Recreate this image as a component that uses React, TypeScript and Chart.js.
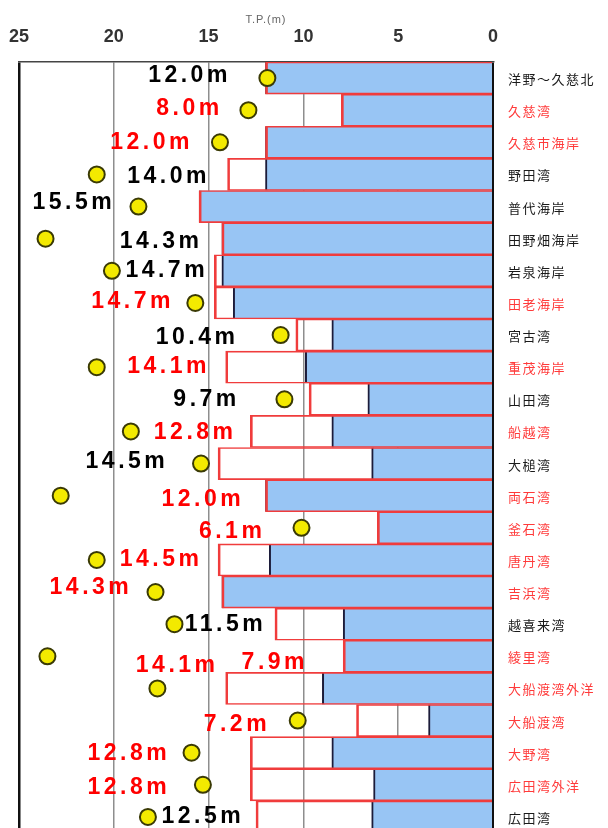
import React, { useEffect, useRef } from 'react';
import { Chart, registerables } from 'chart.js';

Chart.register(...registerables);

// ---- data ----
const categories = [
  '洋野～久慈北', '久慈湾', '久慈市海岸', '野田湾', '普代海岸', '田野畑海岸',
  '岩泉海岸', '田老海岸', '宮古湾', '重茂海岸', '山田湾', '船越湾',
  '大槌湾', '両石湾', '釜石湾', '唐丹湾', '吉浜湾', '越喜来湾',
  '綾里湾', '大船渡湾外洋', '大船渡湾', '大野湾', '広田湾外洋', '広田湾',
];
// true = red text (planned revision), false = black text
const redRows = [
  false, true, true, false, false, false,
  false, true, false, true, false, true,
  false, true, true, true, true, false,
  true, true, true, true, true, false,
];
// planned seawall height (red box), T.P. m
const plannedHeights = [
  12.0, 8.0, 12.0, 14.0, 15.5, 14.3,
  14.7, 14.7, 10.4, 14.1, 9.7, 12.8,
  14.5, 12.0, 6.1, 14.5, 14.3, 11.5,
  7.9, 14.1, 7.2, 12.8, 12.8, 12.5,
];
// existing seawall height (blue bar)
const existingHeights = [
  12.0, 8.0, 12.0, 12.0, 15.5, 14.3,
  14.3, 13.7, 8.5, 9.9, 6.6, 8.5,
  6.4, 12.0, 6.1, 11.8, 14.3, 7.9,
  7.9, 9.0, 3.4, 8.5, 6.3, 6.4,
];
// tsunami height (yellow dot)
const tsunamiHeights = [
  11.9, 12.9, 14.4, 20.9, 18.7, 23.6,
  20.1, 15.7, 11.2, 20.9, 11.0, 19.1,
  15.4, 22.8, 10.1, 20.9, 17.8, 16.8,
  23.5, 17.7, 10.3, 15.9, 15.3, 18.2,
];
const xTicks = [25, 20, 15, 10, 5, 0];
const axisTitle = 'T.P.(m)';

// ---- label layout (where each value label sits: centre on the T.P. scale, and vertical nudge in px) ----
const labelAt = [
  16.1, 16.1, 18.1, 17.2, 22.2, 17.6,
  17.3, 19.1, 15.7, 17.2, 15.2, 15.8,
  19.4, 15.4, 13.85, 17.6, 21.3, 14.2,
  11.6, 16.75, 13.6, 19.3, 19.3, 15.4,
];
const labelDy = [
  -4, -3, -2, 0, -6, 1,
  -2, -3, 1, -2, -2, -1,
  -4, 2, 2, -2, -6, -1,
  4, -25, 2, -1, 1, -2,
];

const labelsPlugin = {
  id: 'customLabels',
  afterDatasetsDraw(chart: any) {
    const { ctx, chartArea } = chart;
    const xs = chart.scales.x;
    const ys = chart.scales.y;
    ctx.save();
    // value labels
    const fs = 23;
    ctx.font = `bold ${fs}px "Liberation Sans", Arial, sans-serif`;
    (ctx as any).letterSpacing = '3.5px';
    ctx.textAlign = 'center';
    ctx.textBaseline = 'alphabetic';
    for (let i = 0; i < categories.length; i++) {
      ctx.fillStyle = redRows[i] ? '#ff0000' : '#000000';
      const cx = xs.getPixelForValue(labelAt[i]) + 1.75;
      const cy = ys.getPixelForValue(i) + labelDy[i] + fs * 0.358;
      ctx.fillText(plannedHeights[i].toFixed(1) + 'm', cx, cy);
    }
    // category names on the right
    ctx.font = '13px "Noto Sans CJK JP", sans-serif';
    (ctx as any).letterSpacing = '1.5px';
    ctx.textAlign = 'left';
    ctx.textBaseline = 'middle';
    for (let i = 0; i < categories.length; i++) {
      ctx.fillStyle = redRows[i] ? '#ff3a3a' : '#1a1a1a';
      ctx.fillText(categories[i], chartArea.right + 15, ys.getPixelForValue(i) + 1);
    }
    // axis title
    ctx.font = '11px "Liberation Sans", Arial, sans-serif';
    (ctx as any).letterSpacing = '1px';
    ctx.textAlign = 'center';
    ctx.fillStyle = '#666';
    ctx.fillText(axisTitle, (chartArea.left + chartArea.right) / 2 + 10, 20);
    ctx.restore();
  },
};

export default function App() {
  const ref = useRef<HTMLCanvasElement>(null);
  useEffect(() => {
    document.body.style.margin = '0';
    const chart = new Chart(ref.current as HTMLCanvasElement, {
      type: 'bar',
      data: {
        labels: categories,
        datasets: [
          {
            type: 'scatter',
            label: '津波高',
            data: tsunamiHeights.map((v, i) => ({ x: v, y: categories[i] })),
            backgroundColor: '#f3ea00',
            borderColor: '#3a3a05',
            borderWidth: 2,
            pointRadius: 8,
            pointHoverRadius: 8,
            order: 0,
            clip: false,
          } as any,
          {
            type: 'bar',
            label: '計画堤防高',
            data: plannedHeights,
            indexAxis: 'y',
            grouped: false,
            barPercentage: 1,
            categoryPercentage: 1,
            backgroundColor: 'rgba(0,0,0,0)',
            borderColor: '#f03c3c',
            borderWidth: { top: 1, bottom: 1, left: 2, right: 0 },
            borderSkipped: false,
            order: 1,
          } as any,
          {
            type: 'bar',
            label: '現況堤防高',
            data: existingHeights,
            indexAxis: 'y',
            grouped: false,
            barPercentage: 1,
            categoryPercentage: 1,
            backgroundColor: '#98c5f4',
            borderColor: '#1c1c3a',
            borderWidth: { top: 0, bottom: 0, left: 2, right: 0 },
            borderSkipped: false,
            order: 2,
          } as any,
        ],
      },
      options: {
        animation: false,
        responsive: false,
        events: [],
        layout: { autoPadding: false, padding: { left: 19, right: 115, top: 0, bottom: 1 } },
        plugins: { legend: { display: false }, tooltip: { enabled: false } },
        scales: {
          x: {
            type: 'linear',
            position: 'top',
            reverse: true,
            offset: false,
            min: 0,
            max: 25,
            afterBuildTicks: (scale: any) => {
              scale.ticks = xTicks.map((v) => ({ value: v }));
            },
            afterFit: (scale: any) => {
              scale.height = 62;
              scale.paddingLeft = 0;
              scale.paddingRight = 0;
            },
            ticks: {
              padding: 14,
              color: '#333',
              font: { family: '"Liberation Sans", Arial, sans-serif', size: 18, weight: 'bold' },
            },
            grid: {
              offset: false,
              drawTicks: false,
              color: (c: any) => (c.tick && (c.tick.value === 25 || c.tick.value === 0) ? '#111' : '#8e8e8e'),
              lineWidth: (c: any) => (c.tick && c.tick.value === 25 ? 2.5 : c.tick && c.tick.value === 0 ? 2 : 1.5),
            },
            border: { display: true, color: '#444', width: 1.5 },
          },
          y: {
            type: 'category',
            display: false,
            offset: true,
            grid: { display: false },
          },
        },
      } as any,
      plugins: [labelsPlugin],
    });
    return () => chart.destroy();
  }, []);
  return (
    <div style={{ position: 'absolute', left: 0, top: 0, width: 608, height: 828, overflow: 'hidden', background: '#fff' }}>
      <canvas ref={ref} width={608} height={834} style={{ display: 'block', width: 608, height: 834 }} />
    </div>
  );
}
